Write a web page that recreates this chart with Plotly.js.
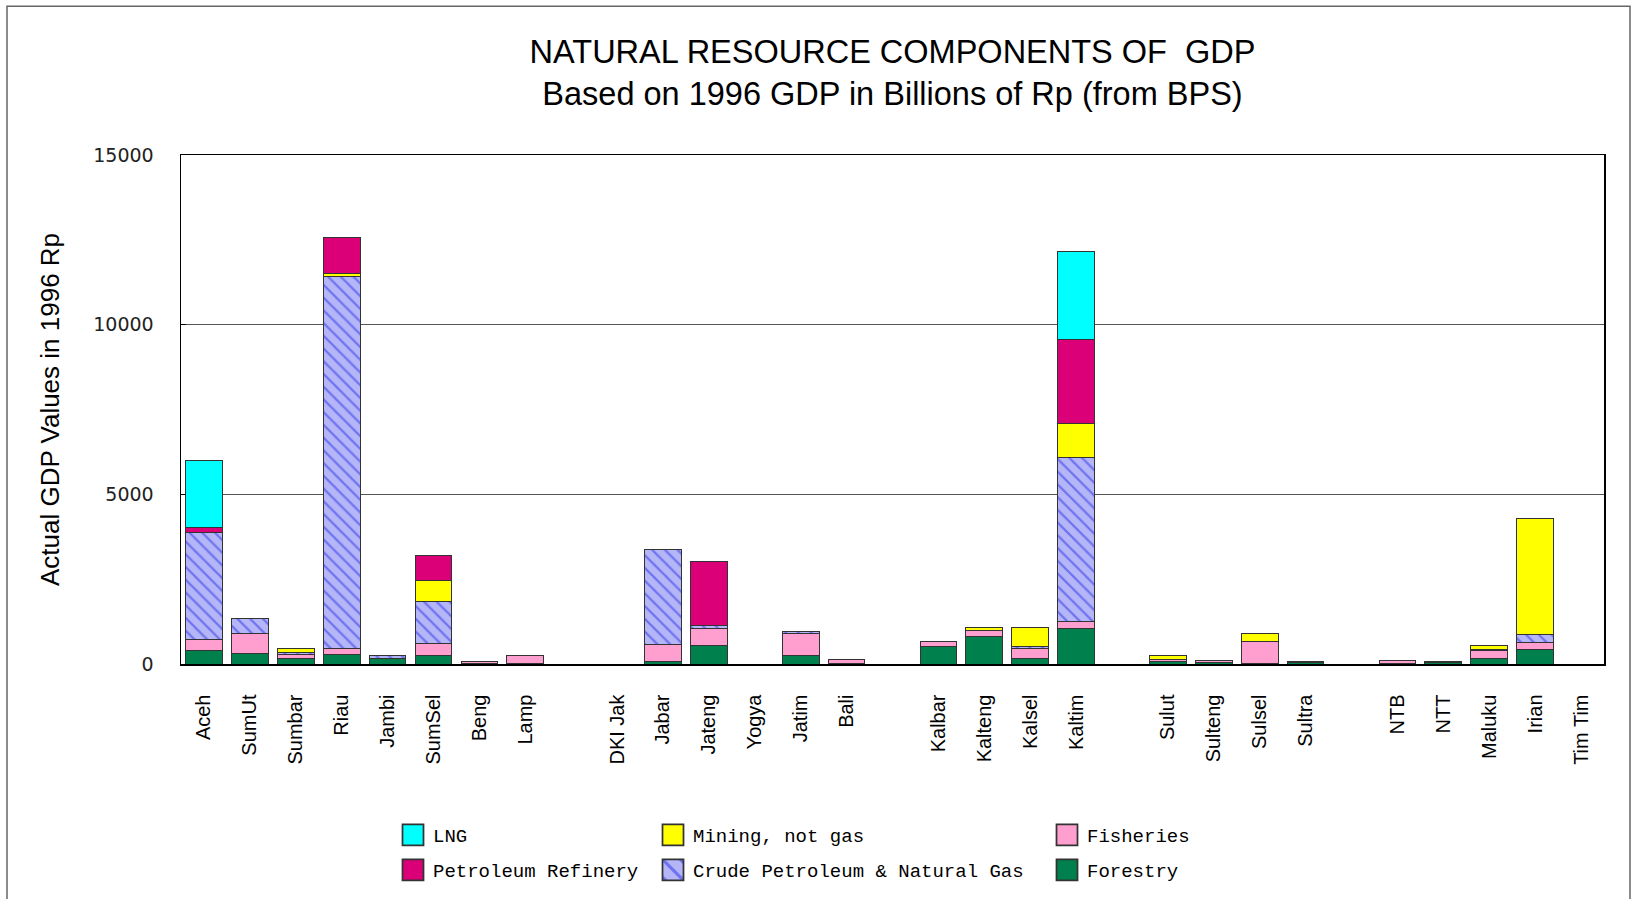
<!DOCTYPE html>
<html>
<head>
<meta charset="utf-8">
<script src="https://cdn.plot.ly/plotly-3.0.1.min.js"></script>
<style>html,body{margin:0;padding:0;background:#fff;}#chart{width:1637px;height:899px;}</style>
</head>
<body>
<div id="chart"></div>
<script>
// Slots along the x axis; null = empty gap between island groups
const slots = ['Aceh','SumUt','Sumbar','Riau','Jambi','SumSel','Beng','Lamp', null,
  'DKI Jak','Jabar','Jateng','Yogya','Jatim','Bali', null,
  'Kalbar','Kalteng','Kalsel','Kaltim', null,
  'Sulut','Sulteng','Sulsel','Sultra', null,
  'NTB','NTT','Maluku','Irian','Tim Tim'];

// Values (billions of Rp, 1996), in the order of the non-empty slots
const forestry  = [390, 300, 170, 290, 150, 245, 10, 15, 0, 80, 550, 0, 265, 20, 515, 810, 150, 1035, 70, 30, 20, 30, 15, 30, 150, 415, 0];
const fisheries = [330, 590, 115, 175, 0, 345, 50, 230, 0, 500, 505, 0, 640, 100, 145, 165, 315, 215, 75, 80, 640, 40, 100, 40, 245, 205, 0];
const crude     = [3160, 450, 50, 10945, 100, 1255, 0, 0, 0, 2780, 70, 0, 50, 0, 0, 0, 40, 4850, 0, 0, 0, 0, 0, 0, 30, 240, 0];
const mining    = [0, 0, 130, 110, 0, 610, 0, 0, 0, 0, 0, 0, 0, 0, 0, 100, 570, 985, 100, 0, 225, 0, 0, 0, 120, 3430, 0];
const refinery  = [130, 0, 0, 1045, 0, 740, 0, 0, 0, 0, 1890, 0, 0, 0, 0, 0, 0, 2465, 0, 0, 0, 0, 0, 0, 0, 0, 0];
const lng       = [1990, 0, 0, 0, 0, 0, 0, 0, 0, 0, 0, 0, 0, 0, 0, 0, 0, 2595, 0, 0, 0, 0, 0, 0, 0, 0, 0];

const seriesNames = ['LNG', 'Mining, not gas', 'Fisheries', 'Petroleum Refinery', 'Crude Petroleum & Natural Gas', 'Forestry'];
const yTicks = [0, 5000, 10000, 15000];
const yTickText = ['0', '5000', '10000', '15000'];

const regions = [];
const xpos = [];
slots.forEach((s, i) => { if (s !== null) { regions.push(s); xpos.push(i); } });

const nz = arr => arr.map(v => (v === 0 ? null : v));
const outline = {color: '#333333', width: 1};

function bar(name, vals, color, legend, extra) {
  const m = Object.assign({color: color, line: outline}, extra || {});
  return {type: 'bar', name: name, x: xpos, y: nz(vals), marker: m, width: 0.8,
          legend: legend, hoverinfo: 'y+name'};
}

const traces = [
  bar(seriesNames[5], forestry, '#00804c', 'legend6'),
  bar(seriesNames[2], fisheries, '#ff9fcf', 'legend3'),
  bar(seriesNames[4], crude, '#a9abf6', 'legend5',
      {pattern: {shape: '\\', fgcolor: '#2a2ee6', bgcolor: '#b4b6f8', size: 9, solidity: 0.25, fillmode: 'overlay'}}),
  bar(seriesNames[1], mining, '#ffff00', 'legend2'),
  bar(seriesNames[3], refinery, '#dc0078', 'legend4'),
  bar(seriesNames[0], lng, '#00ffff', 'legend')
];

const L = 181, R = 33, T = 155, B = 234;
const W = 1637, H = 899;
const pw = W - L - R, ph = H - T - B;
const px = v => (v - L) / pw;
const py = v => (H - B - v) / ph;

const legFont = {family: 'Liberation Mono, Courier New, monospace', size: 19, color: '#000'};
function leg(xp, yp) {
  return {x: px(xp), y: py(yp), xanchor: 'left', yanchor: 'middle', bgcolor: 'rgba(0,0,0,0)',
          borderwidth: 0, font: legFont, itemwidth: 30, itemclick: false, itemdoubleclick: false};
}

const layout = {
  width: W, height: H,
  margin: {l: L, r: R, t: T, b: B},
  paper_bgcolor: '#ffffff', plot_bgcolor: '#ffffff',
  barmode: 'stack',
  font: {family: 'Liberation Sans, Arial, sans-serif', color: '#000'},
  title: {
    text: 'NATURAL RESOURCE COMPONENTS OF  GDP<br>Based on 1996 GDP in Billions of Rp (from BPS)',
    font: {family: 'Liberation Sans, Arial, sans-serif', size: 32.5, color: '#000'},
    xref: 'paper', x: 0.5, xanchor: 'center', yref: 'container', y: 1 - 63 / H, yanchor: 'top'
  },
  xaxis: {
    range: [-0.5, slots.length - 0.5],
    tickmode: 'array', tickvals: xpos, ticktext: regions, tickangle: -90,
    tickfont: {family: 'Liberation Sans, Arial, sans-serif', size: 20, color: '#000'},
    ticks: '', showgrid: false, zeroline: false,
    showline: true, mirror: true, linecolor: '#000', linewidth: 1.5,
    ticklabelstandoff: 21, fixedrange: true
  },
  yaxis: {
    range: [0, 15000], tickmode: 'array', tickvals: yTicks, ticktext: yTickText,
    tickfont: {family: 'DejaVu Sans, sans-serif', size: 19, color: '#222'},
    ticks: 'inside', ticklen: 5, tickcolor: '#000',
    showgrid: true, gridcolor: '#555', gridwidth: 1, zeroline: false,
    showline: true, mirror: true, linecolor: '#000', linewidth: 1.5,
    ticklabelstandoff: 22,
    title: {text: 'Actual GDP Values in 1996 Rp', font: {family: 'Liberation Sans, Arial, sans-serif', size: 26, color: '#000'}, standoff: 26},
    fixedrange: true
  },
  showlegend: true,
  legend:  leg(393, 835),
  legend2: leg(653, 835),
  legend3: leg(1047, 835),
  legend4: leg(393, 870),
  legend5: leg(653, 870),
  legend6: leg(1047, 870),
  shapes: [{
    type: 'rect', xref: 'paper', yref: 'paper',
    x0: px(7), x1: px(1630), y0: py(920), y1: py(6),
    line: {color: '#666', width: 1.5}, fillcolor: 'rgba(0,0,0,0)', layer: 'below'
  }]
};

Plotly.newPlot('chart', traces, layout, {displayModeBar: false, staticPlot: true}).then(() => {
  document.querySelectorAll('.legendpoints path').forEach(p => {
    const t = p.getAttribute('transform') || '';
    p.setAttribute('transform', t + ' scale(1.75)');
  });
});
</script>
</body>
</html>
